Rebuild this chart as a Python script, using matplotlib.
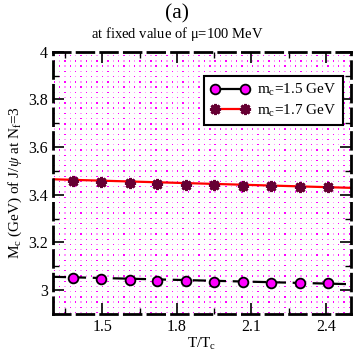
import matplotlib
matplotlib.use("Agg")
import matplotlib.pyplot as plt
import numpy as np
from matplotlib.ticker import MultipleLocator

plt.rcParams['font.family'] = ['Liberation Serif', 'DejaVu Serif']
plt.rcParams['mathtext.fontset'] = 'custom'
plt.rcParams['mathtext.rm'] = 'Liberation Serif'
plt.rcParams['mathtext.it'] = 'Liberation Serif:italic'

T_ratio = [1.38, 1.495, 1.61, 1.72, 1.835, 1.95, 2.065, 2.18, 2.295, 2.41]
M_15 = [3.050, 3.045, 3.042, 3.040, 3.038, 3.036, 3.034, 3.032, 3.030, 3.028]
M_17 = [3.458, 3.452, 3.448, 3.445, 3.443, 3.440, 3.438, 3.436, 3.434, 3.432]
line_x = [1.30, 2.50]
line_15 = [3.056, 3.025]
line_17 = [3.465, 3.429]

fig = plt.figure(figsize=(3.54, 3.54), dpi=100)
ax = fig.add_axes([0.149, 0.113, 0.842, 0.741])

# dotted background pattern
gx, gy = np.meshgrid(np.arange(0.005, 1, 0.018), np.arange(0.005, 1, 0.02))
cols = np.where(((np.arange(gx.shape[1])[None, :] + np.arange(gx.shape[0])[:, None]) % 2) == 0,
                '#ff00ff', '#ff99ff')
ax.scatter(gx.ravel(), gy.ravel(), s=1.0, c=cols.ravel(), marker='s', lw=0,
           transform=ax.transAxes, zorder=0)

ax.plot(line_x, line_15, color='black', lw=1.6, ls=(0, (6, 3)), zorder=2)
ax.plot(line_x, line_17, color='red', lw=1.6, zorder=2)
ax.plot(T_ratio, M_15, ls='none', marker='o', ms=7, mfc='#ff00ff', mec='black',
        mew=1.3, zorder=3)
ax.plot(T_ratio, M_17, ls='none', marker=(8, 2, 0), ms=8, color='#660033',
        mew=2.0, zorder=3)

h1, = ax.plot([], [], color='black', lw=1.6, marker='o', ms=7, mfc='#ff00ff',
              mec='black', mew=1.3)
h2, = ax.plot([], [], color='red', lw=1.6, marker=(8, 2, 0), ms=8, mec='#660033',
              mfc='#660033', mew=2.0)
leg = ax.legend([h1, h2], [r'm$_\mathrm{c}$=1.5 GeV', r'm$_\mathrm{c}$=1.7 GeV'],
                loc='upper right', bbox_to_anchor=(0.973, 0.908), borderaxespad=0,
                numpoints=2, fontsize=11, frameon=True, fancybox=False,
                edgecolor='black', framealpha=1, handlelength=2.6, borderpad=0.4,
                labelspacing=0.3, handletextpad=0.5)
leg.get_frame().set_linewidth(1.5)

ax.set_xlim(1.3, 2.5)
ax.set_ylim(2.9, 4.0)
ax.set_xticks([1.5, 1.8, 2.1, 2.4])
ax.xaxis.set_minor_locator(MultipleLocator(0.15))
ax.yaxis.set_minor_locator(MultipleLocator(0.1))
ax.set_yticks([3.0, 3.2, 3.4, 3.6, 3.8, 4.0])
ax.set_yticklabels(['3', '3.2', '3.4', '3.6', '3.8', '4'])
ax.tick_params(which='both', direction='in', top=True, right=True, labelsize=11.5)
ax.tick_params(which='major', length=8, width=1.2)
ax.tick_params(which='minor', length=4, width=1.0)

for s in ax.spines.values():
    s.set_linewidth(2.0)
    s.set_linestyle((0, (6, 2.5)))

ax.set_xlabel(r'T/T$_\mathrm{c}$', fontsize=11, labelpad=1)
ax.set_ylabel(r'M$_\mathrm{c}$ (GeV) of J/$\psi$ at N$_\mathrm{f}$=3', fontsize=11,
              labelpad=3)
fig.text(0.5, 0.962, '(a)', ha='center', va='center', fontsize=15.5)
fig.text(0.5, 0.905, r'at fixed value of $\mathrm{\mu}$=100 MeV', ha='center',
         va='center', fontsize=10.5)

fig.savefig('out.png', dpi=100)
